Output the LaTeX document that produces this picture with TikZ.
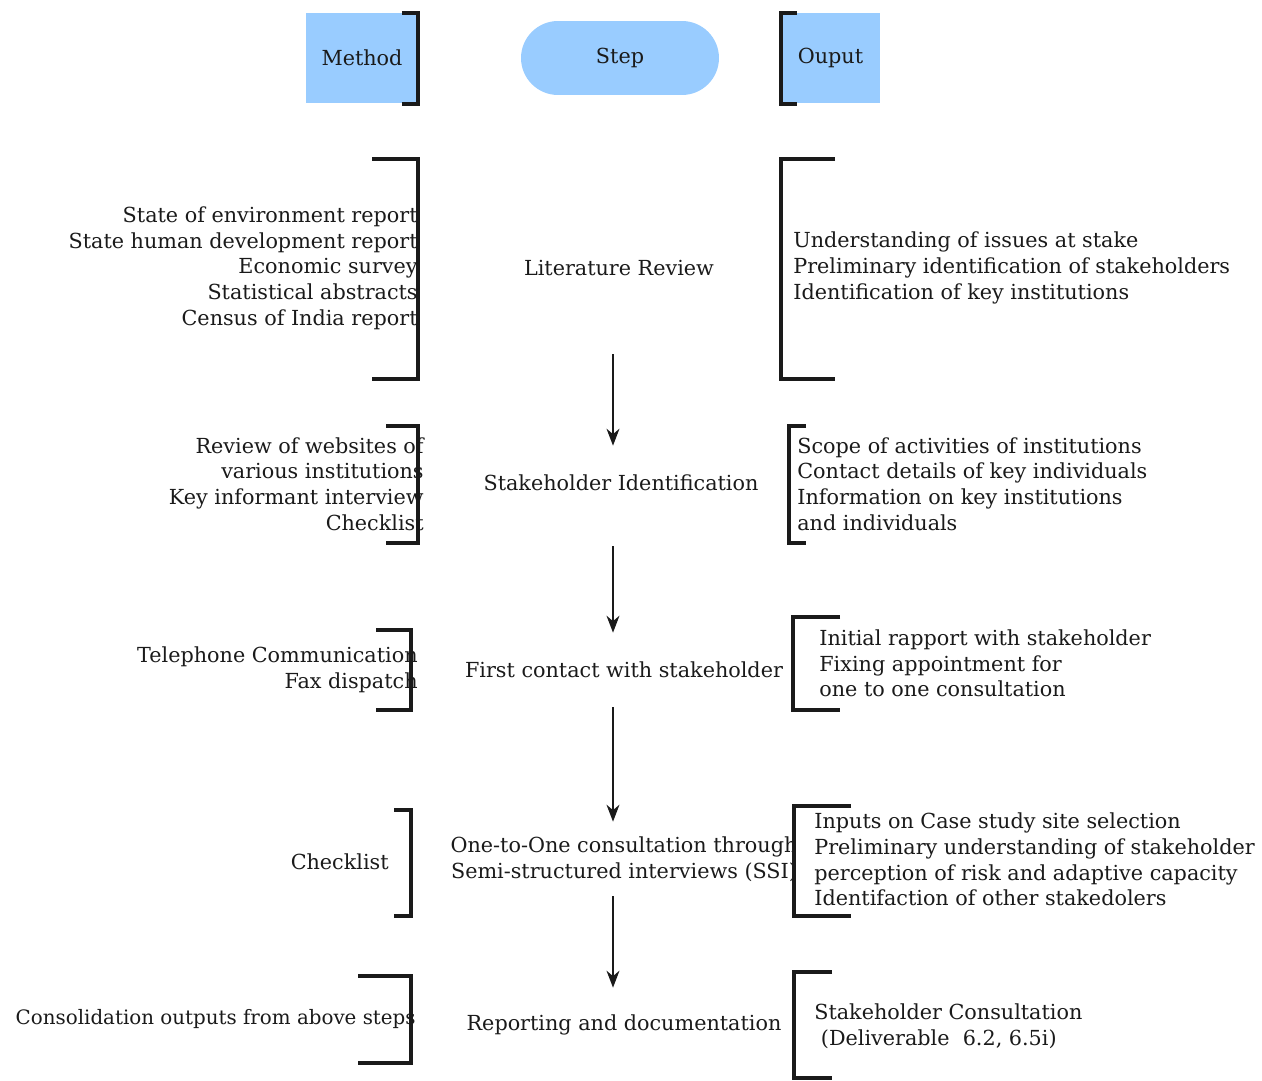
\documentclass[tikz,border=0pt]{standalone}
\usepackage{fontspec}
\setmainfont{DejaVu Serif}
\usetikzlibrary{positioning,arrows.meta,calc}
\definecolor{HeadCol}{HTML}{99CCFF}
\definecolor{TextCol}{HTML}{1A1A1A}
\tikzset{
  plain text/.style={
    text=TextCol,
    font=\fontsize{11.8pt}{14.6pt}\selectfont,
    inner sep=0pt,
    },
  head box/.style={
    plain text,
    shape=rectangle,
    fill=HeadCol,
    minimum height=1.8cm,
    },
  step head/.style={
    plain text,
    shape=rectangle,
    fill=HeadCol,
    rounded corners=0.74cm,
    minimum width=3.96cm,
    minimum height=1.48cm,
    },
  StepText/.style={
    plain text,
    align=center,
    minimum height=1.48cm,
    },
  MethodText/.style={
    plain text,
    align=right,
    anchor=east,
    },
  OutText/.style={
    plain text,
    align=left,
    anchor=west,
    fill=white,
    inner xsep=#1,
    },
}
\tikzstyle{Bracket} = [line width=2pt,TextCol]
\tikzstyle{StepA} = [-{Stealth[length=0.34cm,width=0.26cm]},line width=0.8pt,TextCol]

\begin{document}
\begin{tikzpicture}[x=0.02cm,y=-0.02cm]
    \useasboundingbox (0,0) rectangle (1262,1081);

    % Header
    \node[head box,minimum width=2.24cm] (method) at (362,58) {Method};
    \node[step head] (step) at (620,58) {Step};
    \node[head box,minimum width=1.98cm] (ouput) at (830.5,58) {Ouput};

    % Steps
    \node[StepText] (lit) at (619,268) {Literature Review};
    \node[StepText] (sid) at (621,483) {Stakeholder Identification};
    \node[StepText] (first) at (624,670) {First contact with stakeholder};
    \node[StepText] (one) at (624,859) {One-to-One consultation through\\Semi-structured interviews (SSI)};
    \node[StepText] (rep) at (624,1025) {Reporting and documentation};

    % Methods
    \node[MethodText] (litm) at (418,268) {State of environment report\\State human development report\\Economic survey\\Statistical abstracts\\Census of India report};
    \node[MethodText] (sidm) at (424,484) {Review of websites of\\various institutions\\Key informant interview\\Checklist};
    \node[MethodText] (firstm) at (418,670) {Telephone Communication\\Fax dispatch};
    \node[MethodText] (onem) at (389,862) {Checklist};
    \node[MethodText,font=\fontsize{11.3pt}{14.6pt}\selectfont] (repm) at (416,1019) {Consolidation outputs from above steps};

    % Outputs
    \node[OutText=0.24cm] (lito) at (781,268) {Understanding of issues at stake\\Preliminary identification of stakeholders\\Identification of key institutions};
    \node[OutText=0.16cm] (sido) at (789,484) {Scope of activities of institutions\\Contact details of key individuals\\Information on key institutions\\and individuals};
    \node[OutText=0.52cm] (firsto) at (793,663.5) {Initial rapport with stakeholder\\Fixing appointment for\\one to one consultation};
    \node[OutText=0.4cm] (oneo) at (794,859.5) {Inputs on Case study site selection\\Preliminary understanding of stakeholder\\perception of risk and adaptive capacity\\Identifaction of other stakedolers};
    \node[OutText=0.4cm] (repo) at (794,1026.5) {Stakeholder Consultation\\~(Deliverable~~6.2, 6.5i)};

    % Brackets
    \draw[Bracket] (402,13) -- (418,13) -- (418,104) -- (402,104);
    \draw[Bracket] (797,13) -- (781,13) -- (781,104) -- (797,104);

    \draw[Bracket] (372,159) -- (418,159) -- (418,379) -- (372,379);
    \draw[Bracket] (835,159) -- (781,159) -- (781,379) -- (835,379);

    \draw[Bracket] (386,426) -- (418,426) -- (418,543) -- (386,543);
    \draw[Bracket] (806,426) -- (789,426) -- (789,543) -- (806,543);

    \draw[Bracket] (376,630) -- (411,630) -- (411,710) -- (376,710);
    \draw[Bracket] (840,617) -- (793,617) -- (793,710) -- (840,710);

    \draw[Bracket] (394,810) -- (411,810) -- (411,916) -- (394,916);
    \draw[Bracket] (851,806) -- (794,806) -- (794,916) -- (851,916);

    \draw[Bracket] (358,976) -- (411,976) -- (411,1063) -- (358,1063);
    \draw[Bracket] (832,972) -- (794,972) -- (794,1078) -- (832,1078);

    % Arrows
    \coordinate (axis) at (613,0);
    \draw[StepA,shorten <=0.98cm] (lit.south -| axis) -- (sid.north -| axis);
    \draw[StepA,shorten <=0.52cm] (sid.south -| axis) -- (first.north -| axis);
    \draw[StepA] (first.south -| axis) -- (one.north -| axis);
    \draw[StepA] (one.south -| axis) -- (rep.north -| axis);

\end{tikzpicture}
\end{document}
